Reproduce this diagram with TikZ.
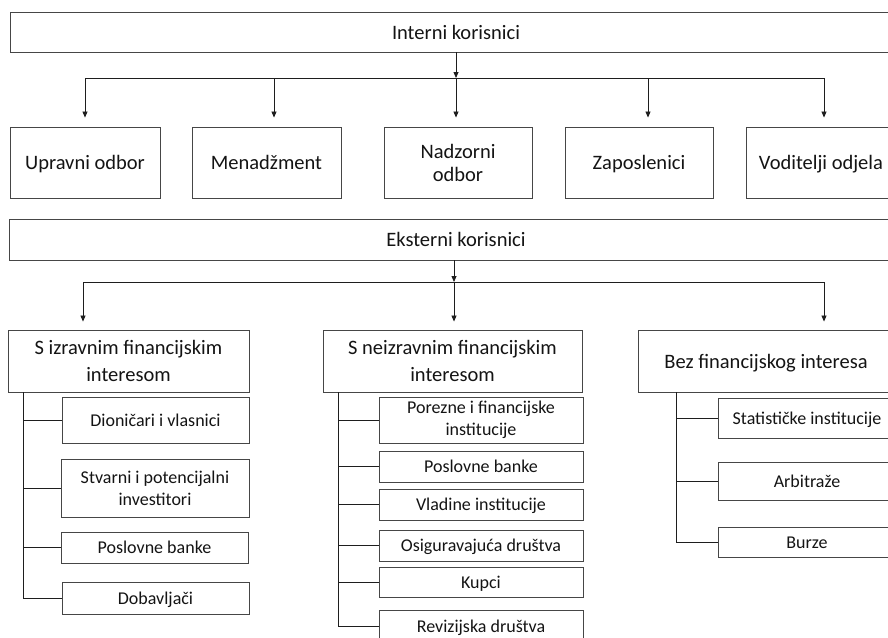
\documentclass[tikz,border=0pt]{standalone}
\usepackage{fontspec}
\setmainfont{Carlito}
\usetikzlibrary{arrows.meta}
\definecolor{boxc}{RGB}{70,70,70}
\definecolor{linec}{RGB}{30,30,30}
\definecolor{txtc}{RGB}{20,20,20}
\tikzset{
  box/.style={draw=boxc, line width=0.9pt, inner sep=0pt, align=center, text=txtc},
  bigone/.style={box, font=\fontsize{20.5}{23}\selectfont, text height=14.6pt, text depth=0.4pt},
  bigtwo/.style={box, font=\fontsize{20.5}{23}\selectfont},
  grp/.style={box, font=\fontsize{20.5}{27}\selectfont},
  smallone/.style={box, font=\fontsize{18}{22}\selectfont, text height=12.8pt, text depth=0.4pt},
  smalltwo/.style={box, font=\fontsize{18}{22}\selectfont},
  ln/.style={draw=linec, line width=0.8pt},
  arr/.style={ln, -{Triangle[length=6pt,width=5pt]}},
}
\begin{document}
\begin{tikzpicture}[x=1pt,y=-1pt]
\useasboundingbox (0,0) rectangle (888,637);
\clip (0,0) rectangle (888,637);
\fill[white] (0,0) rectangle (888,637);

% internal users
\node[bigone, minimum width=892, minimum height=40] (top) at (456,32) {Interni korisnici};
\node[bigone, minimum width=150, minimum height=71] (u1) at (85,162.5) {Upravni odbor};
\node[bigone, minimum width=149, minimum height=71] (u2) at (266.5,162.5) {Menadžment};
\node[bigtwo, minimum width=148, minimum height=71] (u3) at (458,162.5) {Nadzorni\\odbor};
\node[bigone, minimum width=148, minimum height=71] (u4) at (639,162.5) {Zaposlenici};
\node[bigone, minimum width=150, minimum height=71] (u5) at (821,162.5) {Voditelji odjela};

\coordinate (hi) at (456,78);
\coordinate (i1) at (85,78);
\coordinate (i2) at (274,78);
\coordinate (i3) at (456,78);
\coordinate (i4) at (648,78);
\coordinate (i5) at (824,78);
\draw[arr] (top.south -| hi) -- (hi);
\draw[ln] (i1) -- (i5);
\foreach \j/\b in {i1/u1,i2/u2,i3/u3,i4/u4,i5/u5}
  \draw[arr, shorten >=9pt] (\j) -- (\j |- \b.north);

% external users
\node[bigone, minimum width=894, minimum height=41] (ext) at (456,239.5) {Eksterni korisnici};
\node[grp, minimum width=241, minimum height=62] (g1) at (128.5,361) {S izravnim financijskim\\interesom};
\node[grp, minimum width=259, minimum height=62] (g2) at (452.5,361) {S neizravnim financijskim\\interesom};
\node[bigone, minimum width=256, minimum height=62] (g3) at (766,361) {Bez financijskog interesa};

\coordinate (he) at (454,282);
\coordinate (e1) at (83,282);
\coordinate (e2) at (454,282);
\coordinate (e3) at (824,282);
\draw[arr] (ext.south -| he) -- (he);
\draw[ln] (e1) -- (e3);
\foreach \j/\b in {e1/g1,e2/g2,e3/g3}
  \draw[arr, shorten >=8pt] (\j) -- (\j |- \b.north);

% group 1
\node[smallone, minimum width=187, minimum height=46] (a1) at (155.5,420) {Dioničari i vlasnici};
\node[smalltwo, minimum width=188, minimum height=58] (a2) at (155,488) {Stvarni i potencijalni\\investitori};
\node[smallone, minimum width=187, minimum height=31] (a3) at (154.5,547.5) {Poslovne banke};
\node[smallone, minimum width=187, minimum height=32] (a4) at (155.5,598) {Dobavljači};
\coordinate (v1) at (23,392);
\draw[ln] (v1) |- (a4.west);
\foreach \b in {a1,a2,a3}
  \draw[ln] (v1 |- \b.west) -- (\b.west);

% group 2
\node[smalltwo, minimum width=204, minimum height=46] (b1) at (481,420) {Porezne i financijske\\institucije};
\node[smallone, minimum width=204, minimum height=31] (b2) at (481,466.5) {Poslovne banke};
\node[smallone, minimum width=204, minimum height=31] (b3) at (481,504.5) {Vladine institucije};
\node[smallone, minimum width=204, minimum height=31] (b4) at (481,545.5) {Osiguravajuća društva};
\node[smallone, minimum width=204, minimum height=30] (b5) at (481,582) {Kupci};
\node[smallone, minimum width=204, minimum height=33] (b6) at (481,626.5) {Revizijska društva};
\coordinate (v2) at (338,392);
\draw[ln] (v2) |- (b6.west);
\foreach \b in {b1,b2,b3,b4,b5}
  \draw[ln] (v2 |- \b.west) -- (\b.west);

% group 3
\node[smallone, minimum width=178, minimum height=40] (c1) at (807,418) {Statističke institucije};
\node[smallone, minimum width=178, minimum height=38] (c2) at (807,481) {Arbitraže};
\node[smallone, minimum width=178, minimum height=30] (c3) at (807,542) {Burze};
\coordinate (v3) at (676,392);
\draw[ln] (v3) |- (c3.west);
\foreach \b in {c1,c2}
  \draw[ln] (v3 |- \b.west) -- (\b.west);
\end{tikzpicture}
\end{document}
